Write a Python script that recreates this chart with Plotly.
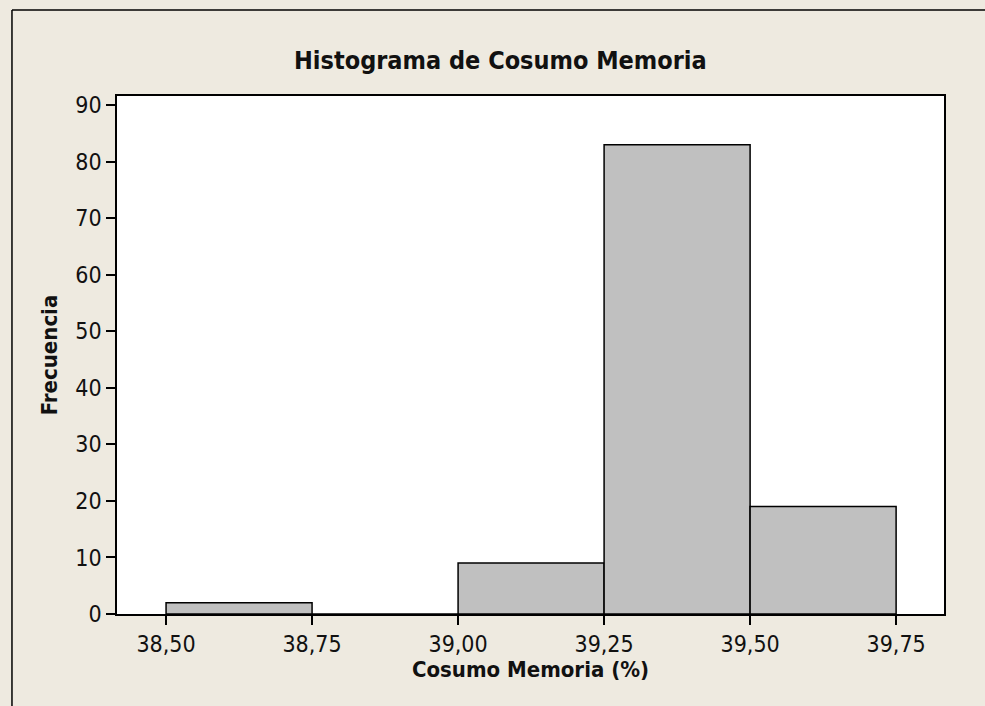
import plotly.graph_objects as go

# bin edges and counts
bin_edges = [38.50, 38.75, 39.00, 39.25, 39.50, 39.75]
counts = [2, 0, 9, 83, 19]
x_ticks = [38.50, 38.75, 39.00, 39.25, 39.50, 39.75]
y_ticks = [0, 10, 20, 30, 40, 50, 60, 70, 80, 90]

centers = [(bin_edges[i] + bin_edges[i + 1]) / 2 for i in range(len(counts))]
widths = [bin_edges[i + 1] - bin_edges[i] for i in range(len(counts))]

FONT = "DejaVu Sans Condensed, DejaVu Sans, sans-serif"
BEIGE = "#EEEAE0"

fig = go.Figure(go.Bar(
    x=centers, y=counts, width=widths,
    marker=dict(color="#C0C0C0", line=dict(color="black", width=1.5)),
))

fig.update_layout(
    width=985, height=706,
    margin=dict(l=117, r=41, t=96, b=92),
    paper_bgcolor=BEIGE, plot_bgcolor="white",
    separators=",.",
    showlegend=False,
    font=dict(family=FONT, size=23, color="#111111"),
    title=dict(text="<b>Histograma de Cosumo Memoria</b>", x=0.508, xanchor="center",
               y=0.915, yanchor="middle", font=dict(size=25, family=FONT)),
    xaxis=dict(range=[38.416, 39.832], tickvals=x_ticks, tickformat=".2f",
               ticks="outside", ticklen=9, tickwidth=1.5, tickcolor="black",
               showline=True, linecolor="black", linewidth=1.5, mirror=True,
               showgrid=False, zeroline=False,
               title=dict(text="<b>Cosumo Memoria (%)</b>", standoff=4,
                          font=dict(size=22))),
    yaxis=dict(range=[0, 91.6], tickvals=y_ticks,
               ticks="outside", ticklen=9, tickwidth=1.5, tickcolor="black",
               showline=True, linecolor="black", linewidth=1.5, mirror=True,
               showgrid=False, zeroline=False,
               title=dict(text="<b>Frecuencia</b>", standoff=12,
                          font=dict(size=22))),
    shapes=[
        dict(type="line", xref="paper", yref="paper", x0=-0.127, x1=1.1, y0=1.166, y1=1.166,
             line=dict(color="black", width=1.5)),
        dict(type="line", xref="paper", yref="paper", x0=-0.127, x1=-0.127, y0=1.166, y1=-0.2,
             line=dict(color="black", width=1.5)),
    ],
)

fig.write_html(
    "out.html",
    config={"displayModeBar": False},
    post_script="document.body.style.margin='0';document.body.style.background='%s';" % BEIGE,
)
